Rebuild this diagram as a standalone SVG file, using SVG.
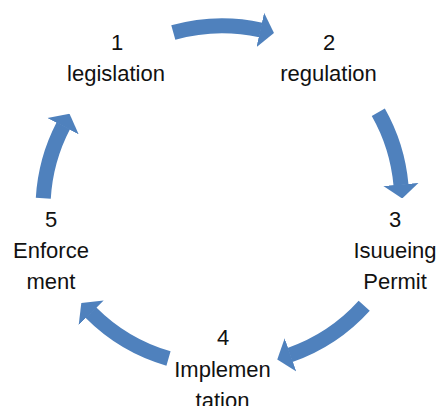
<svg xmlns="http://www.w3.org/2000/svg" width="439" height="406" viewBox="0 0 439 406">
  <defs>
    <marker id="head" markerUnits="userSpaceOnUse" markerWidth="14" markerHeight="36" viewBox="0 -17 13.5 34" refX="0.5" refY="0" orient="auto">
      <path d="M0,-17 L13.5,0 L0,17 Z" fill="#4F81BD"/>
    </marker>
    <style>
      .arrow { fill: none; stroke: #4F81BD; stroke-width: 15; stroke-linecap: butt; marker-end: url(#head); }
      .lbl { font-family: "Liberation Sans", Arial, sans-serif; font-size: 22px; fill: #111; text-anchor: middle; }
    </style>
  </defs>
  <rect width="439" height="406" fill="#ffffff"/>
  <g id="connectors">
    <path class="arrow" d="M173.3,32.5 A180,180 0 0 1 260.8,30"/>
    <path class="arrow" d="M378.3,112.2 A180,180 0 0 1 401,185"/>
    <path class="arrow" d="M364.2,305.8 A180,180 0 0 1 290,355"/>
    <path class="arrow" d="M168.5,358.5 A180,180 0 0 1 90.8,312.5"/>
    <path class="arrow" d="M43.3,198.3 A180,180 0 0 1 63.3,125.8"/>
  </g>
  <g id="node1">
    <text class="lbl" x="117" y="49.5">1</text>
    <text class="lbl" x="116" y="80.5">legislation</text>
  </g>
  <g id="node2">
    <text class="lbl" x="329" y="49.5">2</text>
    <text class="lbl" x="328.5" y="80.5">regulation</text>
  </g>
  <g id="node3">
    <text class="lbl" x="395" y="227">3</text>
    <text class="lbl" x="395" y="258">Isuueing</text>
    <text class="lbl" x="395" y="289">Permit</text>
  </g>
  <g id="node4">
    <text class="lbl" x="223" y="345">4</text>
    <text class="lbl" x="222.5" y="376.5">Implemen</text>
    <text class="lbl" x="222.5" y="407.5">tation</text>
  </g>
  <g id="node5">
    <text class="lbl" x="51" y="227">5</text>
    <text class="lbl" x="51" y="258">Enforce</text>
    <text class="lbl" x="51" y="289">ment</text>
  </g>
</svg>
